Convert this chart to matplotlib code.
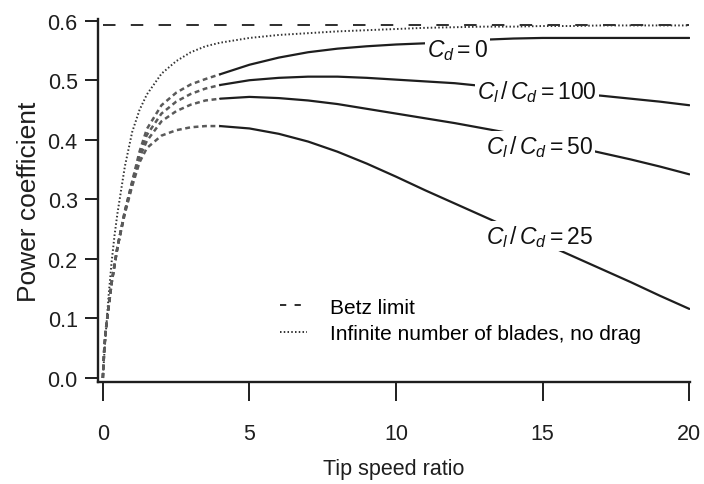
import numpy as np
import matplotlib
matplotlib.use("Agg")
import matplotlib.pyplot as plt
from matplotlib.lines import Line2D

# ---------------- data ----------------
tsr = [0, 0.05, 0.1, 0.2, 0.3, 0.4, 0.5, 0.75, 1.0, 1.25, 1.5, 2.0, 2.5, 3.0,
       3.5, 4.0, 5, 6, 7, 8, 9, 10, 11, 12, 13, 14, 15, 16, 17, 18, 19, 20]

cp_infinite = [0, 0.04, 0.075, 0.14, 0.195, 0.24, 0.277, 0.355, 0.413, 0.450,
               0.476, 0.511, 0.532, 0.547, 0.557, 0.563, 0.571, 0.576, 0.579,
               0.582, 0.584, 0.586, 0.588, 0.589, 0.590, 0.590, 0.591, 0.591,
               0.592, 0.592, 0.592, 0.592]

cp_cd0 = [0, 0.05, 0.08, 0.12, 0.16, 0.19, 0.22, 0.28, 0.33, 0.38, 0.418,
          0.458, 0.479, 0.493, 0.502, 0.510, 0.526, 0.538, 0.547, 0.553,
          0.557, 0.560, 0.562, 0.565, 0.568, 0.570, 0.571, 0.571, 0.571,
          0.571, 0.571, 0.571]

cp_100 = [0, 0.05, 0.08, 0.12, 0.16, 0.19, 0.22, 0.28, 0.328, 0.375, 0.408,
          0.444, 0.464, 0.477, 0.486, 0.492, 0.500, 0.504, 0.506, 0.506,
          0.504, 0.501, 0.498, 0.495, 0.490, 0.486, 0.482, 0.478, 0.474,
          0.469, 0.464, 0.458]

cp_50 = [0, 0.05, 0.08, 0.12, 0.16, 0.19, 0.22, 0.278, 0.325, 0.370, 0.398,
         0.431, 0.448, 0.459, 0.466, 0.469, 0.472, 0.470, 0.466, 0.460,
         0.452, 0.444, 0.436, 0.428, 0.419, 0.410, 0.399, 0.389, 0.378,
         0.367, 0.355, 0.342]

cp_25 = [0, 0.05, 0.08, 0.12, 0.16, 0.19, 0.22, 0.276, 0.322, 0.362, 0.386,
         0.407, 0.416, 0.421, 0.423, 0.423, 0.419, 0.410, 0.397, 0.380,
         0.360, 0.338, 0.315, 0.293, 0.271, 0.249, 0.227, 0.205, 0.183,
         0.161, 0.138, 0.116]

betz_limit = 16 / 27
curve_labels = [r"$C_d = 0$", r"$C_l\,/\,C_d = 100$",
                r"$C_l\,/\,C_d = 50$", r"$C_l\,/\,C_d = 25$"]
label_xy = [(12.1, 0.552), (14.8, 0.482), (14.9, 0.389), (14.9, 0.239)]
legend_labels = ["Betz limit", "Infinite number of blades, no drag"]
x_ticks = [0, 5, 10, 15, 20]
y_ticks = [0.0, 0.1, 0.2, 0.3, 0.4, 0.5, 0.6]
dash_end = 4.0

# ---------------- style ----------------
plt.rcParams["font.family"] = ["Liberation Sans", "DejaVu Sans"]
plt.rcParams["mathtext.fontset"] = "custom"
plt.rcParams["mathtext.rm"] = "Liberation Sans"
plt.rcParams["mathtext.it"] = "Liberation Sans:italic"
plt.rcParams["lines.scale_dashes"] = False

fig = plt.figure(figsize=(7.04, 4.85), dpi=100)
ax = fig.add_axes([0.139, 0.210, 0.841, 0.749])

x = np.array(tsr)
ink = "#1e1e1e"
grey = "#5a5a5a"

betz_style = dict(color=ink, lw=1.3)
inf_style = dict(color="#333333", lw=1.4, linestyle=(0, (1.1, 1.6)))

ax.plot(x, [betz_limit] * len(x), linestyle=(0, (9.0, 11.0)), **betz_style)
ax.plot(x, cp_infinite, **inf_style)

for cp in (cp_cd0, cp_100, cp_50, cp_25):
    y = np.array(cp)
    lo = x <= dash_end
    hi = x >= dash_end
    ax.plot(x[lo], y[lo], color=grey, lw=1.8, linestyle=(0, (3.5, 2.6)))
    ax.plot(x[hi], y[hi], color=ink, lw=1.6, solid_capstyle="round")

for txt, (tx, ty) in zip(curve_labels, label_xy):
    ax.text(tx, ty, txt, fontsize=16.5, ha="center", va="center", color="#111111",
            bbox=dict(fc="white", ec="none", pad=1.5), zorder=5)

ax.set_xlim(-0.17, 20.02)
ax.set_ylim(-0.007, 0.603)
ax.set_xticks(x_ticks)
ax.set_yticks(y_ticks)
ax.set_yticklabels([f"{v:.1f}" for v in y_ticks])

for s in ("top", "right"):
    ax.spines[s].set_visible(False)
for s in ("left", "bottom"):
    ax.spines[s].set_linewidth(1.7)
    ax.spines[s].set_color(ink)

ax.tick_params(axis="x", direction="out", length=13.5, width=1.4, pad=16,
               labelsize=15.5, colors=ink)
ax.tick_params(axis="y", direction="out", length=9.5, width=1.4, pad=5,
               labelsize=15.5, colors=ink)

ax.set_xlabel("Tip speed ratio", fontsize=15.5, labelpad=10, color=ink)
ax.set_ylabel("Power coefficient", fontsize=19, labelpad=5, color=ink)

handles = [Line2D([], [], linestyle=(0, (4.5, 6.0)), **betz_style),
           Line2D([], [], **inf_style)]
ax.legend(handles, legend_labels, loc="upper left",
          bbox_to_anchor=(0.398, 0.384), bbox_transform=fig.transFigure,
          frameon=False, fontsize=15, handlelength=1.3, handletextpad=1.1,
          labelspacing=0.34, borderpad=0, borderaxespad=0)

fig.savefig("out.png", dpi=100, facecolor="white")
